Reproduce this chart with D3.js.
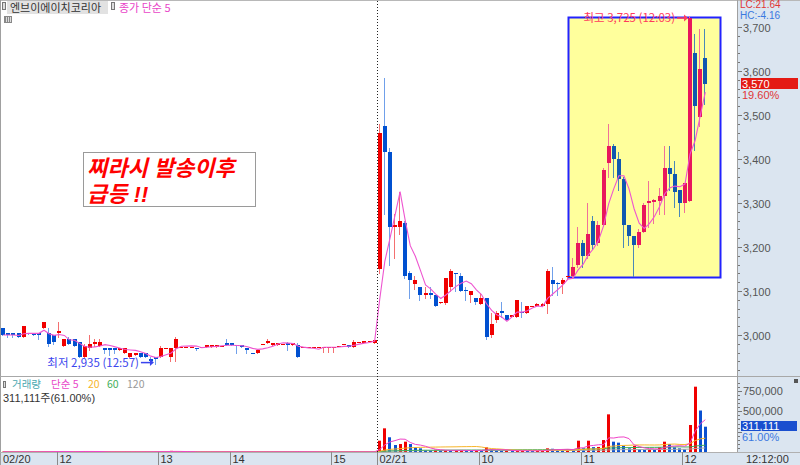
<!DOCTYPE html>
<html><head><meta charset="utf-8">
<script src="https://cdn.jsdelivr.net/npm/d3@7"></script>
<style>
html,body{margin:0;padding:0;background:#fff;}
svg{display:block;}
</style></head><body>
<svg id="c" width="800" height="465"></svg>
<script>
// ---------------- DATA ----------------
const opens = [
 3015,3005,3005,3005,2995,3005,3003,3005,3015,3005,
 3000,3005,2975,2990,2990,2985,2950,2970,2980,2975,
 2970,2970,2970,2965,2960,2950,2955,2960,2960,2945,
 2950,2950,2970,2950,2970,2972,2972,2972,2970,2972,
 2973,2973,2973,2975,2982,2982,2977,2977,2970,2960,
 2960,2980,2981,2977,2977,2980,2982,2977,2977,2972,
 2972,2972,2972,2970,2970,2970,2975,2980,2977,2973,
 2984,2982,2987,2982,
 3150,3475,3415,3245,3245,3255,3140,3115,3110,3090,
 3095,3090,3072,3072,3110,3140,3135,3103,3090,3085,
 3070,3085,3000,3035,3055,3045,3042,3040,3052,3050,
 3065,3065,3065,3070,3125,3118,3115,3132,3135,3160,
 3210,3180,3260,3210,3250,3390,3430,3400,3355,3250,
 3225,3205,3235,3300,3303,3305,3315,3380,3365,3330,
 3300,3305,3640,3495,3630];
const highs = [
 3015,3005,3005,3005,3020,3005,3003,3005,3030,3015,
 3000,3030,2990,2995,2990,2985,2980,3000,2990,2990,
 2970,2970,2970,2970,2970,2960,2960,2960,2960,2950,
 2950,2975,2970,2970,2995,2972,2972,2972,2970,2972,
 2978,2978,2978,2975,2990,2982,2977,2977,2970,2960,
 2966,2980,2990,2982,2982,2980,2985,2982,2982,2972,
 2972,2972,2972,2972,2972,2972,2975,2980,2977,2989,
 2984,2987,2987,2989,
 3480,3585,3425,3275,3325,3260,3145,3135,3110,3110,
 3110,3090,3076,3130,3150,3140,3140,3110,3100,3085,
 3095,3085,3050,3055,3075,3045,3046,3080,3075,3065,
 3066,3072,3072,3150,3155,3120,3130,3135,3175,3245,
 3215,3300,3270,3260,3380,3480,3435,3415,3360,3250,
 3225,3240,3300,3350,3310,3335,3430,3430,3395,3330,
 3345,3725,3685,3695,3695];
const lows = [
 3000,2995,2995,2995,2995,3003,3001,2990,3015,2975,
 2980,2995,2975,2980,2975,2950,2950,2965,2975,2975,
 2960,2955,2960,2965,2960,2950,2955,2950,2950,2940,
 2935,2950,2970,2940,2940,2972,2972,2972,2965,2972,
 2973,2973,2973,2975,2977,2977,2960,2972,2958,2958,
 2958,2980,2981,2977,2977,2980,2966,2977,2951,2972,
 2972,2972,2972,2962,2962,2962,2975,2980,2973,2973,
 2984,2982,2987,2982,
 3140,3275,3160,3175,3230,3130,3085,3105,3080,3085,
 3085,3065,3072,3070,3100,3100,3100,3080,3075,3070,
 3070,2990,2995,3030,3040,3035,3042,3040,3040,3050,
 3065,3065,3065,3050,3090,3090,3095,3128,3132,3155,
 3155,3175,3195,3205,3250,3360,3360,3330,3200,3205,
 3135,3200,3235,3245,3255,3275,3275,3330,3290,3270,
 3280,3305,3420,3475,3525];
const closes = [
 3000,3000,3000,2995,3020,3003,3001,3000,3030,2980,
 2985,3010,2990,2980,2975,2950,2975,2980,2985,2985,
 2965,2965,2965,2970,2970,2960,2960,2950,2950,2940,
 2945,2970,2970,2970,2990,2972,2972,2972,2968,2972,
 2977,2977,2977,2975,2977,2977,2975,2973,2965,2958,
 2966,2980,2987,2982,2982,2980,2977,2982,2951,2972,
 2972,2972,2972,2972,2972,2972,2975,2980,2973,2984,
 2984,2987,2987,2989,
 3460,3415,3245,3250,3260,3135,3125,3125,3090,3095,
 3090,3065,3075,3130,3145,3138,3100,3100,3100,3075,
 3085,2995,3025,3050,3050,3035,3045,3080,3050,3065,
 3066,3070,3070,3145,3115,3115,3125,3135,3155,3210,
 3180,3230,3205,3250,3375,3430,3400,3355,3250,3225,
 3205,3235,3295,3305,3307,3315,3380,3365,3325,3300,
 3345,3720,3520,3605,3570];
const volumes = [
 4000,2000,2000,3000,8000,1000,1000,2000,6000,12000,
 5000,4000,5000,3000,4000,12000,8000,5000,2000,3000,
 3000,2000,2000,2000,3000,4000,2000,3000,2000,5000,
 6000,8000,2000,14000,8000,2000,1000,1000,2000,1000,
 3000,3000,3000,1000,4000,3000,3000,2000,3000,2000,
 2000,1000,4000,3000,3000,1000,3000,3000,10000,1000,
 1000,1000,1000,2000,2000,2000,1000,1000,3000,5000,
 1000,3000,1000,4000,
 139000,291000,181000,86000,98000,127000,98000,57000,45000,25000,
 20000,28000,18000,22000,15000,20000,25000,18000,15000,20000,
 18000,57000,30000,20000,15000,18000,12000,15000,20000,15000,
 12000,15000,18000,45000,40000,30000,25000,30000,20000,139000,
 45000,139000,60000,62000,147000,463000,127000,115000,74000,45000,
 74000,33000,25000,33000,30000,57000,127000,98000,57000,45000,
 33000,332000,803000,510000,311111];
// time axis: bar index where each label starts
const timeTickIdx = [0, 11, 31, 45, 65, 74, 94, 114, 134];
const timeTickLabels = ["02/20","12","13","14","15","02/21","10","11","12"];
const dayBreakIdx = 74;
const priceTicks = [3000,3100,3200,3300,3400,3500,3600,3700];
const volTicks = [500000,750000];
const maPeriods = [5,20,60,120];
const maColors = ["#f044c8","#f7b52a","#3fae5a","#a8a8a8"];
// annotations
const stockName = "엔브이에이치코리아";
const highlight = {from:111, low:3132, high:3722};
const lowInfo = {idx:30, text:"최저 2,935 (12:57)"};
const highInfo = {idx:135, text:"최고 3,725 (12:03)"};
const noteLines = ["찌라시 발송이후","급등 !!"];

// ---------------- CHECK ----------------
[opens,highs,lows,closes,volumes].forEach((a,k)=>{ if(a.length!==139) throw new Error("len "+k+" "+a.length); });

// ---------------- LAYOUT ----------------
const FONT = '"Liberation Sans", Arial, "Noto Sans CJK KR", sans-serif';
const KFONT = '"Noto Sans CJK KR", "Liberation Sans", sans-serif';
const N = closes.length;
const axisX = 738, priceBot = 376, volTop = 377, volBot = 452;
const AXBG = "#dbe5f0";
const svg = d3.select("#c");

const x = d3.scaleBand().domain(d3.range(N)).range([0.76, 0.76 + N*5.087]);
const cx = i => x(i) + x.bandwidth()/2;
const yP = d3.scaleLinear().domain([3000,3700]).range([335,27]);
const yV = d3.scaleLinear().domain([0,750000]).range([452,391]);

const sma = (arr,n) => arr.map((v,i)=> d3.mean(arr.slice(Math.max(0,i-n+1), i+1)));

// backgrounds
svg.append("rect").attr("width",800).attr("height",465).attr("fill","#fff");
svg.append("rect").attr("x",axisX).attr("y",0).attr("width",800-axisX).attr("height",volBot).attr("fill",AXBG);
svg.append("rect").attr("x",0).attr("y",volBot).attr("width",800).attr("height",13).attr("fill",AXBG);

// clip paths
const defs = svg.append("defs");
defs.append("clipPath").attr("id","cp").append("rect").attr("x",0).attr("y",0).attr("width",axisX).attr("height",priceBot);
defs.append("clipPath").attr("id","cv").append("rect").attr("x",0).attr("y",volTop).attr("width",axisX).attr("height",volBot-volTop);

// highlight box
const hx0 = Math.round(cx(highlight.from)) + 0.5;
const hx1 = Math.round(cx(N-1) + 14.7) + 0.5;
svg.append("rect").attr("x",hx0).attr("y",Math.round(yP(highlight.high))+0.5)
  .attr("width",hx1-hx0).attr("height",Math.round(yP(highlight.low))-Math.round(yP(highlight.high)))
  .attr("fill","#ffff9c").attr("stroke","#2222ff").attr("stroke-width",2);

// candles
const gC = svg.append("g").attr("clip-path","url(#cp)");
const isUp = i => closes[i] >= opens[i];
const inBox = i => i > highlight.from;
const bodyCol = i => isUp(i) ? (inBox(i) ? "#e8175d" : "#f00000") : (inBox(i) ? "#1058b0" : "#0050d0");
const wickCol = i => isUp(i) ? (inBox(i) ? "#f0709a" : "#f47070") : (inBox(i) ? "#4a88b8" : "#70a0ea");
d3.range(N).forEach(i=>{
  const left = Math.round(cx(i) - 2);
  gC.append("line").attr("x1",left+1.5).attr("x2",left+1.5)
    .attr("y1",Math.round(yP(highs[i]))).attr("y2",Math.round(yP(lows[i]))+1)
    .attr("stroke",wickCol(i)).attr("stroke-width",1);
  const t = Math.round(yP(Math.max(opens[i],closes[i])));
  const b = Math.round(yP(Math.min(opens[i],closes[i])));
  gC.append("rect").attr("x",left).attr("y",t).attr("width",4).attr("height",Math.max(1,b-t))
    .attr("fill",bodyCol(i)).attr("shape-rendering","crispEdges");
});
// MA5 price
const ma5 = sma(closes,5);
gC.append("path").attr("d", d3.line().x((d,i)=>cx(i)).y(d=>yP(d))(ma5))
  .attr("fill","none").attr("stroke","#ee55d0").attr("stroke-width",1.1);

// volume bars
const gV = svg.append("g").attr("clip-path","url(#cv)");
d3.range(N).forEach(i=>{
  const up = i===0 || volumes[i] >= volumes[i-1];
  const top = yV(volumes[i]);
  gV.append("rect").attr("x",Math.round(cx(i)-1.5)).attr("y",top).attr("width",3)
    .attr("height",Math.max(0.6, yV(0)-top)).attr("fill", up ? "#f00000" : "#0a50d0");
});
maPeriods.slice().reverse().forEach((p,k)=>{
  const idx = maPeriods.length-1-k;
  gV.append("path").attr("d", d3.line().x((d,i)=>cx(i)).y(d=>yV(d))(sma(volumes,p)))
    .attr("fill","none").attr("stroke",maColors[idx]).attr("stroke-width",1);
});

// separators / borders
const sep = (x1,y1,x2,y2,c="#a8a8a8") => svg.append("line").attr("x1",x1).attr("y1",y1).attr("x2",x2).attr("y2",y2).attr("stroke",c).attr("stroke-width",1);
sep(0,0.5,800,0.5,"#b8b8b8");
sep(0.5,0,0.5,465,"#a0a0a0");
sep(0,priceBot+0.5,800,priceBot+0.5,"#a8a8a8");
sep(axisX-0.5,0,axisX-0.5,volBot,"#a0a0a0");
sep(0,volBot+0.5,800,volBot+0.5,"#b0b0b0");

// price axis
const gPA = svg.append("g").attr("transform",`translate(${axisX},0)`);
d3.range(2920,3741,20).forEach(v=>{
  const yy = Math.round(yP(v))+0.5;
  if (yy < 2 || yy > priceBot) return;
  const major = v % 100 === 0;
  gPA.append("line").attr("x1",0).attr("x2",major?4:2).attr("y1",yy).attr("y2",yy).attr("stroke","#777");
});
gPA.selectAll("text.pt").data(priceTicks).join("text").attr("class","pt")
  .attr("x",5).attr("y",d=>yP(d)+4.5).attr("font-family",FONT).attr("font-size",11).attr("fill","#555")
  .text(d=>d3.format(",")(d));
// LC / HC
svg.append("rect").attr("x",axisX).attr("y",1).attr("width",800-axisX).attr("height",21).attr("fill",AXBG);
svg.append("text").attr("x",740).attr("y",7.5).attr("font-family",FONT).attr("font-size",10).attr("fill","#e03535").text("LC:21.64");
svg.append("text").attr("x",740).attr("y",19).attr("font-family",FONT).attr("font-size",10).attr("fill","#3a78e0").text("HC:-4.16");
// current price box
const lastC = closes[N-1];
const yc = yP(lastC);
svg.append("rect").attr("x",741).attr("y",Math.round(yc)-6).attr("width",57).attr("height",11).attr("fill","#e41a14");
svg.append("text").attr("x",742).attr("y",Math.round(yc)+4).attr("font-family",FONT).attr("font-size",11).attr("fill","#fff").text(d3.format(",")(lastC));
svg.append("text").attr("x",742).attr("y",Math.round(yc)+15).attr("font-family",FONT).attr("font-size",11).attr("fill","#e03535").text("19.60%");

// volume axis
d3.range(50000,860000,50000).forEach(v=>{
  const yy = Math.round(yV(v))+0.5;
  if (yy < volTop+2) return;
  const major = v % 250000 === 0;
  svg.append("line").attr("x1",axisX).attr("x2",axisX+(major?4:2)).attr("y1",yy).attr("y2",yy).attr("stroke","#777");
});
svg.selectAll("text.vt").data(volTicks).join("text").attr("class","vt")
  .attr("x",axisX+5).attr("y",d=>yV(d)+4).attr("font-family",FONT).attr("font-size",11).attr("fill","#555")
  .text(d=>d3.format(",")(d));
const lastV = volumes[N-1];
const yvv = yV(lastV);
svg.append("rect").attr("x",741).attr("y",Math.round(yvv)-6).attr("width",56).attr("height",10).attr("fill","#1a4fcf");
svg.append("text").attr("x",742).attr("y",Math.round(yvv)+3).attr("font-family",FONT).attr("font-size",11).attr("fill","#fff").text(d3.format(",")(lastV));
svg.append("text").attr("x",742).attr("y",Math.round(yvv)+14).attr("font-family",FONT).attr("font-size",11).attr("fill","#3a78e0")
  .text(d3.format(".2f")(lastV/volumes[N-2]*100)+"%");
svg.append("rect").attr("x",794).attr("y",379).attr("width",4).attr("height",4).attr("fill","#555");

// time axis
timeTickIdx.forEach((ti,k)=>{
  const xx = Math.round(x(ti)) + 0.5;
  if (k>0) sep(xx,volBot,xx,465,"#8a8a8a");
  svg.append("text").attr("x", k===0 ? 3 : xx+2).attr("y",463).attr("font-family",FONT).attr("font-size",11)
    .attr("fill","#333").text(timeTickLabels[k]);
});
svg.append("text").attr("x",746).attr("y",463).attr("font-family",FONT).attr("font-size",11).attr("fill","#333").text("12:12:00");

// day break dotted line
const dbx = Math.round(x(dayBreakIdx)) + 0.5;
svg.append("line").attr("x1",dbx).attr("x2",dbx).attr("y1",1).attr("y2",volBot)
  .attr("stroke","#222").attr("stroke-width",1).attr("stroke-dasharray","1,2");

// legends
svg.append("rect").attr("x",2.5).attr("y",2.5).attr("width",3).attr("height",7).attr("fill","#ddd").attr("stroke","#777");
svg.append("rect").attr("x",7).attr("y",1).attr("width",101).attr("height",13).attr("fill","#e2e2e2");
svg.append("text").attr("x",10).attr("y",12).attr("font-family",KFONT).attr("font-size",11).attr("fill","#333").text(stockName);
svg.append("rect").attr("x",111.5).attr("y",2.5).attr("width",3).attr("height",7).attr("fill","#ddd").attr("stroke","#777");
svg.append("text").attr("x",119).attr("y",12).attr("font-family",KFONT).attr("font-size",11).attr("fill","#e844c8").text("종가 단순 5");
svg.append("rect").attr("x",4).attr("y",16).attr("width",8).attr("height",7).attr("fill","#888");
[6,8,10].forEach(gx=>svg.append("line").attr("x1",gx+0.5).attr("x2",gx+0.5).attr("y1",17).attr("y2",22).attr("stroke","#ddd"));

svg.append("rect").attr("x",3.5).attr("y",381.5).attr("width",2).attr("height",6).attr("fill","#ddd").attr("stroke","#777");
const volLegend = [
  {t:"거래량", x:12, c:"#4aa8b0"},
  {t:"단순 5", x:51, c:"#e844c8"},
  {t:String(maPeriods[1]), x:88, c:maColors[1]},
  {t:String(maPeriods[2]), x:107, c:maColors[2]},
  {t:String(maPeriods[3]), x:127, c:"#999"}
];
volLegend.forEach(d=>svg.append("text").attr("x",d.x).attr("y",388).attr("font-family",KFONT).attr("font-size",10.5).attr("fill",d.c).text(d.t));
svg.append("text").attr("x",3).attr("y",402).attr("font-family",FONT).attr("font-size",11).attr("fill","#333")
  .text(d3.format(",")(lastV)+"주(61.00%)");

// low / high annotations
const lx = cx(lowInfo.idx);
const ly = yP(lows[lowInfo.idx]);
svg.append("text").attr("x",lx-17).attr("y",ly+3).attr("text-anchor","end").attr("font-family",KFONT).attr("font-size",11.5).attr("fill","#3a44ee").text(lowInfo.text);
svg.append("line").attr("x1",lx-15).attr("x2",lx-5).attr("y1",ly-1).attr("y2",ly-1).attr("stroke","#3a44ee").attr("stroke-width",1.5);
svg.append("path").attr("d",`M${lx-6},${ly-4.5}L${lx-2},${ly-1}L${lx-6},${ly+2.5}Z`).attr("fill","#3a44ee");

const hxp = cx(highInfo.idx);
const hyp = yP(highs[highInfo.idx]) + 2;
svg.append("text").attr("x",hxp-15).attr("y",hyp+4).attr("text-anchor","end").attr("font-family",KFONT).attr("font-size",11.5).attr("fill","#ff3a5c").text(highInfo.text);
svg.append("line").attr("x1",hxp-13).attr("x2",hxp-5).attr("y1",hyp).attr("y2",hyp).attr("stroke","#ff3a5c").attr("stroke-width",1.5);
svg.append("path").attr("d",`M${hxp-6},${hyp-3.5}L${hxp-2},${hyp}L${hxp-6},${hyp+3.5}Z`).attr("fill","#ff3a5c");

// note box
svg.append("rect").attr("x",83.5).attr("y",152.5).attr("width",172).attr("height",54).attr("fill","#fff").attr("stroke","#9a9a9a");
noteLines.forEach((t,k)=>{
  svg.append("text").attr("x",87).attr("y",176+k*25.5).attr("font-family",FONT).attr("font-size",22)
    .attr("font-weight","bold").attr("font-style","italic").attr("fill","#ff0000").text(t);
});
</script>
</body></html>
